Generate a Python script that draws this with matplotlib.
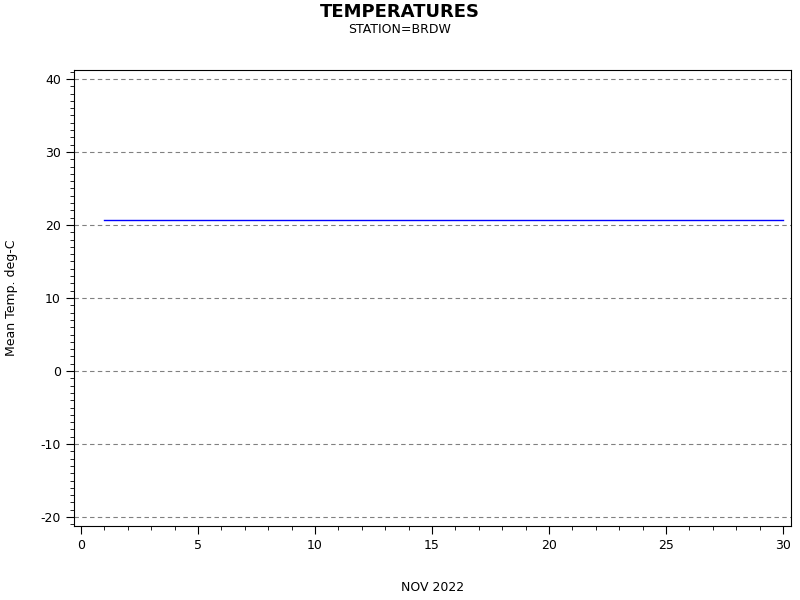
import matplotlib
matplotlib.use("Agg")
import matplotlib.pyplot as plt
from matplotlib.ticker import MultipleLocator

plt.rcParams["axes.unicode_minus"] = False

# Daily mean temperature, NOV 2022, station BRDW
days = list(range(1, 31))
mean_temp = [20.7] * 30
x_ticks = [0, 5, 10, 15, 20, 25, 30]
y_ticks = [-20, -10, 0, 10, 20, 30, 40]

fig = plt.figure(figsize=(8, 6), dpi=100)
ax = fig.add_axes([74 / 800, 1 - 526 / 600, 717 / 800, 456 / 600])

ax.plot(days, mean_temp, color="blue", linewidth=1)

ax.set_xlim(-0.3, 30.34)
ax.set_ylim(-21.23, 41.23)
ax.set_xticks(x_ticks)
ax.set_yticks(y_ticks)
ax.xaxis.set_minor_locator(MultipleLocator(1))
ax.yaxis.set_minor_locator(MultipleLocator(1))
ax.tick_params(which="both", direction="out", labelsize=9)
ax.tick_params(which="major", length=6)
ax.tick_params(which="minor", length=3)
for y in y_ticks:
    ax.axhline(y, color="gray", linestyle=(0, (4, 3)), linewidth=0.8, zorder=0)

ax.set_xlabel("NOV 2022", fontsize=9)
ax.xaxis.set_label_coords(0.5, -0.12)
ax.set_ylabel("Mean Temp. deg-C", fontsize=9)
ax.yaxis.set_label_coords(-0.078, 0.5)

fig.text(0.5, 0.995, "TEMPERATURES", ha="center", va="top", fontsize=13, fontweight="bold")
fig.text(0.5, 0.962, "STATION=BRDW", ha="center", va="top", fontsize=9)

fig.savefig("out.png", dpi=100)
